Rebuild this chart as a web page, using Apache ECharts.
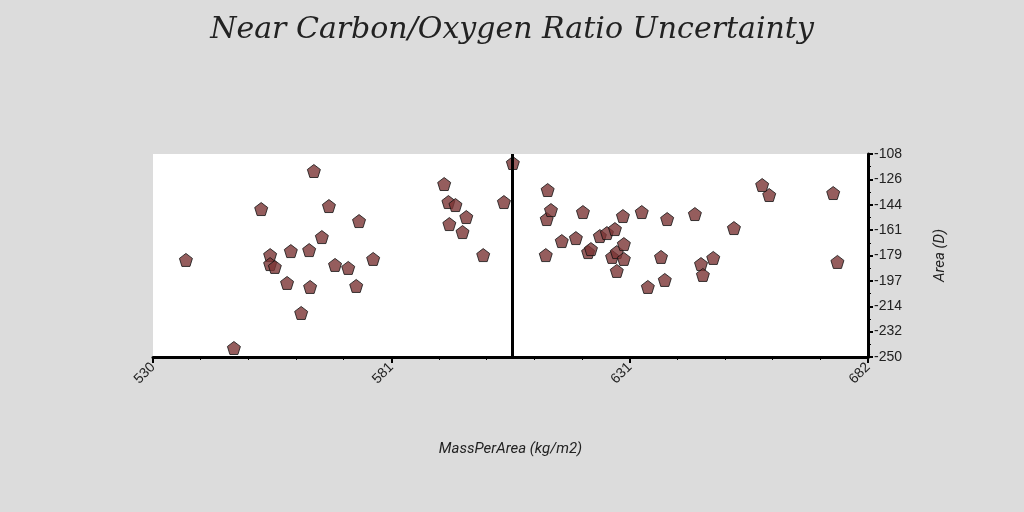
<!DOCTYPE html>
<html><head><meta charset="utf-8">
<script src="https://cdn.jsdelivr.net/npm/echarts@6/dist/echarts.min.js"></script>
<style>html,body{margin:0;padding:0;background:#dcdcdc}#c{width:1024px;height:512px}</style>
</head><body><div id="c"></div>
<script>
const xValues=[537.0,547.2,553.0,554.9,554.9,555.9,558.5,559.3,561.5,563.2,563.4,564.2,565.9,567.4,568.7,571.5,573.2,573.8,576.8,591.9,592.8,593.0,594.3,595.8,596.6,600.2,604.6,606.5,613.5,613.9,613.7,614.6,616.9,619.9,621.4,622.5,623.1,625.0,626.5,628.2,627.6,628.6,628.6,630.1,630.1,629.9,633.9,635.2,638.0,638.8,639.3,645.2,646.5,646.9,649.1,653.5,659.5,661.0,674.6,675.5];
const yValues=[-182.1,-243.7,-146.5,-178.7,-185.0,-187.0,-198.2,-175.9,-219.2,-175.2,-201.0,-119.9,-166.1,-144.4,-185.6,-187.7,-200.3,-154.9,-181.4,-129.0,-141.6,-157.0,-143.7,-162.6,-152.1,-178.7,-141.6,-114.3,-178.7,-133.2,-153.5,-147.2,-168.9,-166.8,-148.6,-176.6,-174.5,-165.4,-163.3,-160.5,-180.0,-176.6,-189.8,-181.4,-171.0,-151.4,-148.6,-201.0,-180.0,-196.1,-153.5,-150.0,-185.0,-192.6,-180.7,-159.8,-129.7,-136.7,-135.3,-183.5];
const xTickLabels=['530','581','631','682'];
const yTickLabels=['-250','-232','-214','-197','-179','-161','-144','-126','-108'];
const markX=606.3;
const xMin=530,xMax=682,yMin=-250,yMax=-108;
const xInt=(xMax-xMin)/3,yInt=(yMax-yMin)/8;
const pent='path://M0,-1 L0.951,-0.309 L0.588,0.809 L-0.588,0.809 L-0.951,-0.309 Z';
const chart=echarts.init(document.getElementById('c'));
chart.setOption({
 backgroundColor:'#dcdcdc',
 title:{text:'Near Carbon/Oxygen Ratio Uncertainty',left:'center',top:10,textStyle:{fontFamily:'DejaVu Serif',fontStyle:'italic',fontWeight:'normal',fontSize:30,color:'#222'}},
 grid:{left:153,right:156,top:154,bottom:155,show:true,backgroundColor:'#fff',borderWidth:0},
 xAxis:{type:'value',min:xMin,max:xMax,interval:xInt,name:'MassPerArea (kg/m2)',nameLocation:'middle',nameGap:85,
  nameTextStyle:{fontStyle:'italic',fontSize:15,color:'#222',fontFamily:'Roboto'},
  axisLine:{lineStyle:{color:'#000',width:3}},axisTick:{show:true,length:6,lineStyle:{color:'#000',width:2}},
  minorTick:{show:true,splitNumber:5,length:3,lineStyle:{color:'#000'}},splitLine:{show:false},
  axisLabel:{rotate:45,fontSize:14,color:'#222',formatter:v=>xTickLabels[Math.round((v-xMin)/xInt)]}},
 yAxis:{type:'value',position:'right',min:yMin,max:yMax,interval:yInt,name:'Area (D)',nameLocation:'middle',nameGap:65,nameRotate:90,
  nameTextStyle:{fontStyle:'italic',fontSize:15,color:'#222',fontFamily:'Roboto'},
  axisLine:{show:true,lineStyle:{color:'#000',width:3}},axisTick:{show:true,length:5,lineStyle:{color:'#000',width:2}},
  minorTick:{show:true,splitNumber:2,length:3,lineStyle:{color:'#000'}},splitLine:{show:false},
  axisLabel:{fontSize:14,color:'#222',margin:6,formatter:v=>yTickLabels[Math.round((v-yMin)/yInt)]}},
 series:[{type:'scatter',data:xValues.map((x,i)=>[x,yValues[i]]),symbol:pent,symbolSize:13,
  itemStyle:{color:'#7b3535',borderColor:'#111',borderWidth:1},
  markLine:{silent:true,symbol:'none',label:{show:false},lineStyle:{color:'#000',width:3,type:'solid'},data:[{xAxis:markX}]}}]
});
</script></body></html>
